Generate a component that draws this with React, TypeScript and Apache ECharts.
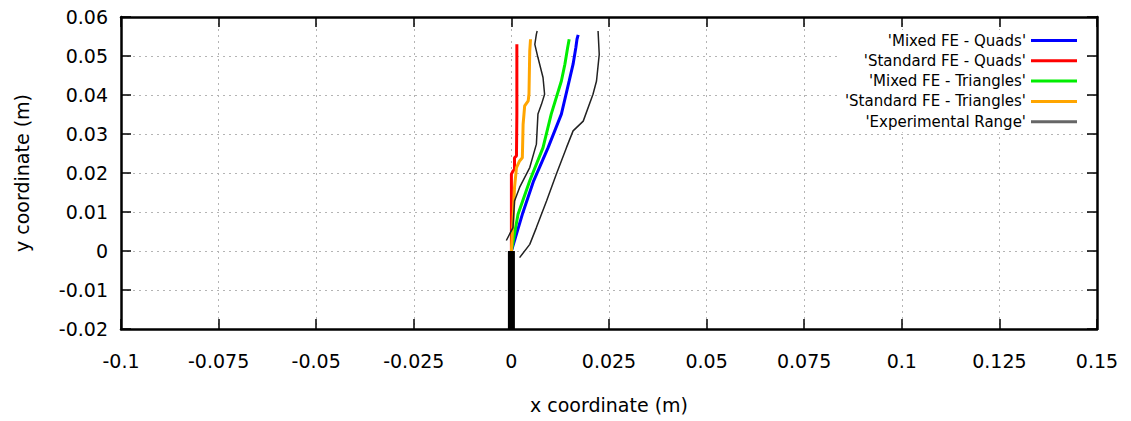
import React, { useEffect, useRef } from "react";
import * as echarts from "echarts";

const xTicksMin = -0.1;
const xTicksMax = 0.15;
const xInterval = 0.025;
const yTicksMin = -0.02;
const yTicksMax = 0.06;
const yInterval = 0.01;

const pileX = [0, 0];
const pileY = [-0.02, 0];

const mixedQuadsX = [0, 0.0028, 0.0057, 0.0094, 0.0128, 0.0148, 0.0158, 0.0165, 0.0168, 0.0171];
const mixedQuadsY = [0, 0.0094, 0.018, 0.0265, 0.0351, 0.0436, 0.0479, 0.0521, 0.0543, 0.0554];

const stdQuadsX = [0, 0, 0.0004, 0.0008, 0.0008, 0.0013, 0.0014, 0.0014];
const stdQuadsY = [0, 0.0197, 0.0205, 0.0209, 0.0239, 0.0244, 0.0351, 0.053];

const mixedTriX = [0, 0.0017, 0.0047, 0.0081, 0.0102, 0.0128, 0.0137, 0.0144, 0.0148];
const mixedTriY = [0, 0.0094, 0.018, 0.0265, 0.0351, 0.0436, 0.0479, 0.0521, 0.0543];

const stdTriX = [0, 0.0004, 0.0008, 0.0013, 0.0021, 0.0028, 0.003, 0.0034, 0.0043, 0.0045, 0.0047, 0.0049];
const stdTriY = [0, 0.0077, 0.0163, 0.0214, 0.0231, 0.0239, 0.0325, 0.0372, 0.0385, 0.0402, 0.0513, 0.0543];

const expLeftX = [-0.0013, 0.0004, 0.0008, 0.0021, 0.0047, 0.0064, 0.0068, 0.0077, 0.0085, 0.0081, 0.0068, 0.006, 0.0064, 0.0066];
const expLeftY = [0.0027, 0.006, 0.0128, 0.0163, 0.0214, 0.0274, 0.0351, 0.0376, 0.0402, 0.0445, 0.0496, 0.053, 0.0556, 0.0564];

const expRightX = [0.0021, 0.0047, 0.0064, 0.009, 0.0115, 0.0141, 0.0158, 0.0184, 0.0209, 0.0218, 0.0225, 0.0222];
const expRightY = [-0.0017, 0.0017, 0.006, 0.0128, 0.0197, 0.0265, 0.0308, 0.0333, 0.0402, 0.0436, 0.0504, 0.0564];

const legendNames = [
  "'Mixed FE - Quads'",
  "'Standard FE - Quads'",
  "'Mixed FE - Triangles'",
  "'Standard FE - Triangles'",
  "'Experimental Range'",
];
const seriesColors = ["#0000ff", "#ff0000", "#00ee00", "#ffa500", "#222222"];
const legendIconColors = ["#0000ff", "#ff0000", "#00ee00", "#ffa500", "#666666"];

const zip = (xs: number[], ys: number[]) => xs.map((x, i) => [x, ys[i]]);
const fmt = (v: number) => String(parseFloat(v.toFixed(4)));
const FONT = "DejaVu Sans";

export default function App() {
  const ref = useRef<HTMLDivElement>(null);
  useEffect(() => {
    if (!ref.current) return;
    const chart = echarts.init(ref.current, undefined, { renderer: "svg" });
    const frameLine = { show: true, onZero: false, lineStyle: { color: "#000", width: 2.5 } };
    const tickIn = { show: true, inside: true, length: 10, lineStyle: { color: "#000", width: 1.5 } };
    const gridDots = { show: true, lineStyle: { color: "#b4b4b4", width: 1, type: [2, 4] as any } };
    const lineSeries = (name: string, data: number[][], color: string, width: number) => ({
      type: "line",
      name,
      data,
      symbol: "none",
      showSymbol: false,
      lineStyle: { color, width },
      itemStyle: { color },
      z: 3,
    });
    chart.setOption({
      animation: false,
      backgroundColor: "#fff",
      grid: { left: 121, right: 34, top: 17, bottom: 92, containLabel: false },
      legend: {
        data: legendNames.map((n, i) => ({
          name: n,
          icon: "rect",
          itemStyle: { color: legendIconColors[i] },
        })),
        orient: "vertical",
        align: "right",
        right: 46,
        top: 30,
        padding: [3, 8, 3, 8],
        backgroundColor: "#fff",
        itemWidth: 46,
        itemHeight: 3,
        itemGap: 5.3,
        textStyle: { fontFamily: FONT, fontSize: 15, color: "#000" },
        selectedMode: false,
        z: 10,
      },
      xAxis: [
        {
          type: "value",
          min: xTicksMin,
          max: xTicksMax,
          interval: xInterval,
          position: "bottom",
          name: "x coordinate (m)",
          nameLocation: "middle",
          nameGap: 66,
          nameTextStyle: { fontFamily: FONT, fontSize: 19, color: "#000" },
          axisLine: frameLine,
          axisTick: tickIn,
          splitLine: gridDots,
          axisLabel: { fontFamily: FONT, fontSize: 19, color: "#000", margin: 22, formatter: fmt },
        },
        {
          type: "value",
          min: xTicksMin,
          max: xTicksMax,
          interval: xInterval,
          position: "top",
          axisLine: frameLine,
          axisTick: tickIn,
          splitLine: { show: false },
          axisLabel: { show: false },
        },
      ],
      yAxis: [
        {
          type: "value",
          min: yTicksMin,
          max: yTicksMax,
          interval: yInterval,
          position: "left",
          name: "y coordinate (m)",
          nameLocation: "middle",
          nameGap: 90,
          nameTextStyle: { fontFamily: FONT, fontSize: 19, color: "#000" },
          axisLine: frameLine,
          axisTick: tickIn,
          splitLine: gridDots,
          axisLabel: { fontFamily: FONT, fontSize: 19, color: "#000", margin: 13, formatter: fmt },
        },
        {
          type: "value",
          min: yTicksMin,
          max: yTicksMax,
          interval: yInterval,
          position: "right",
          axisLine: frameLine,
          axisTick: tickIn,
          splitLine: { show: false },
          axisLabel: { show: false },
        },
      ],
      series: [
        { ...lineSeries("pile", zip(pileX, pileY), "#000", 7), z: 4 },
        lineSeries(legendNames[0], zip(mixedQuadsX, mixedQuadsY), seriesColors[0], 3),
        lineSeries(legendNames[1], zip(stdQuadsX, stdQuadsY), seriesColors[1], 3),
        lineSeries(legendNames[2], zip(mixedTriX, mixedTriY), seriesColors[2], 3),
        lineSeries(legendNames[3], zip(stdTriX, stdTriY), seriesColors[3], 3),
        lineSeries(legendNames[4], zip(expLeftX, expLeftY), seriesColors[4], 1.5),
        lineSeries(legendNames[4], zip(expRightX, expRightY), seriesColors[4], 1.5),
      ],
    });
    return () => chart.dispose();
  }, []);
  return (
    <div
      ref={ref}
      style={{ position: "fixed", left: 0, top: 0, width: 1131, height: 421, background: "#fff" }}
    />
  );
}
